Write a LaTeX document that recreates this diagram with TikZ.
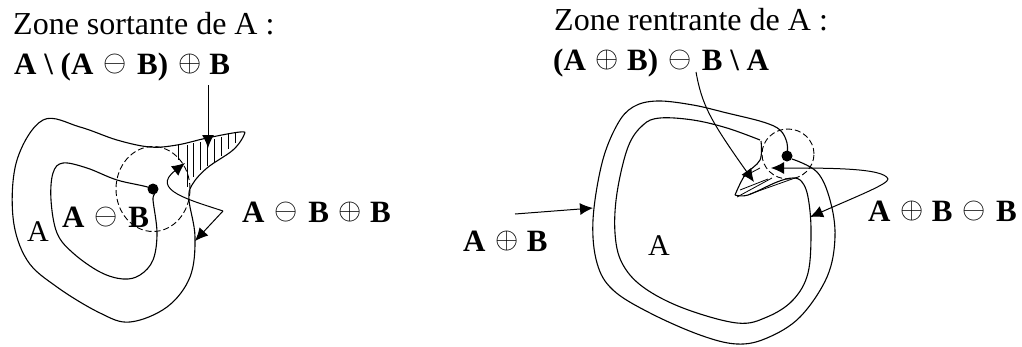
\documentclass[tikz,border=0pt]{standalone}
\usepackage{fontspec}
\setmainfont{Liberation Serif}
\usetikzlibrary{arrows.meta,shapes.geometric}
\begin{document}
\begin{tikzpicture}[x=1pt,y=-1pt]
	% Styles
	\tikzstyle{contour}=[line width=1.1pt,black]
	\tikzstyle{hachure}=[line width=0.8pt,black]
	\tikzstyle{fleche}=[line width=1pt,-{Latex[length=13pt,width=12pt]}]
	\tikzstyle{zone}=[draw,dash pattern=on 6pt off 3pt,ellipse,line width=0.9pt,inner sep=0pt]
	\tikzstyle{point}=[circle,fill=black,inner sep=0pt,minimum size=11pt]
	\tikzstyle{texte}=[anchor=base west,inner sep=0pt,font=\fontsize{32}{32}\selectfont]
	\tikzstyle{lettre}=[texte,font=\fontsize{30}{30}\selectfont]
	\tikzstyle{gras}=[texte,font=\fontsize{31}{31}\selectfont\bfseries]
	\def\Moins{\hspace{10pt}\raisebox{3pt}{\scalebox{1.2}{$\ominus$}}\hspace{10.5pt}}
	\def\Plus{\hspace{10pt}\raisebox{3pt}{\scalebox{1.2}{$\oplus$}}\hspace{8pt}}
	\useasboundingbox (0,0) rectangle (1022,346);
	% Titres
	\node[texte] (titreS) at (13,34) {Zone sortante de A :};
	\node[gras] (formuleS) at (14,74) {A \textbackslash\ (A\Moins B)\Plus B};
	\node[texte] (titreR) at (554,30) {Zone rentrante de A :};
	\node[gras] (formuleR) at (553,70) {(A\Plus B)\Moins B \textbackslash\ A};
	% Figure de gauche
	\draw[contour] plot[smooth cycle,tension=0.6] coordinates {(43,120) (80,127) (117,140) (150,147) (177,145) (207,138) (240,132) (244,135) (233,150) (207,168) (192,185) (189,200) (195,237) (190,277) (167,307) (130,322) (100,313) (57,287) (27,260) (13,217) (17,160)};
	\draw[contour] plot[smooth cycle,tension=0.6] coordinates {(63,163) (87,168) (117,180) (153,189) (153,200) (157,233) (153,260) (140,275) (123,279) (100,272) (73,253) (57,233) (51,200) (53,173)};
	\foreach \x/\ya/\yb in {178/145/160,187/145/187,193/143/177,200/142/170,207/140/166,214/139/162,221/137/156,228/134/149,235/133/143}
		\draw[hachure] (\x,\ya)--(\x,\yb);
	\node[point] (centreS) at (153,189) {};
	\node[zone,minimum width=74pt,minimum height=85pt] (disqueS) at (153,189) {};
	\node[lettre] (AS) at (27,241) {A};
	\node[gras] (erode) at (62,227) {A\Moins B};
	\node[gras] (ouvert) at (242,222) {A\Moins B\Plus B};
	% Fleches de gauche
	\coordinate (departS) at (208,85);
	\coordinate (pointeS) at (208,148);
	\coordinate (coinS) at (223,211);
	\coordinate (pointeA) at (195,241);
	\coordinate (pointeB) at (185,163);
	\draw[fleche] (departS)--(pointeS);
	\draw[fleche] (coinS)--(pointeA);
	\draw[fleche] (coinS) .. controls (190,200) and (150,190) .. (pointeB);
	% Figure de droite
	\draw[contour] plot[smooth,tension=0.6] coordinates {(787,156) (787,143) (780,130) (763,122) (727,113) (693,105) (657,101) (633,107) (617,125) (602,163) (593,220) (597,263) (613,290) (650,313) (700,335) (737,344) (767,338) (800,317) (827,277) (835,237) (830,200) (817,172) (792,159)};
	\draw[contour] plot[smooth,tension=0.6] coordinates {(760,140) (727,128) (693,120) (660,118) (643,125) (628,147) (617,193) (615,233) (622,263) (643,287) (683,308) (737,323) (767,317) (793,300) (808,273) (811,230) (808,197) (802,182) (793,178) (777,182) (748,195) (735,195)};
	\draw[contour] plot[smooth,tension=0.6] coordinates {(735,195) (745,175) (760,160) (761,141)};
	\draw[hachure] (743,177)--(760,168);
	\draw[hachure] (737,197)--(772,178);
	\draw[hachure] (740,190)--(768,179);
	\draw[hachure] (750,194)--(795,178);
	\node[point] (centreR) at (787,156) {};
	\node[zone,minimum width=52pt,minimum height=50pt] (disqueR) at (788,154) {};
	\node[lettre] (AR) at (648,255) {A};
	\node[gras] (dilate) at (463,251) {A\Plus B};
	\node[gras] (ferme) at (868,221) {A\Plus B\Moins B};
	% Fleches de droite
	\coordinate (departR) at (696,72);
	\coordinate (pointeR) at (754,182);
	\coordinate (departD) at (515,214);
	\coordinate (pointeD) at (593,208);
	\coordinate (coinR) at (888,179);
	\coordinate (pointeC) at (771,168);
	\coordinate (pointeE) at (810,217);
	\draw[fleche] (departR) .. controls (702,105) and (710,120) .. (pointeR);
	\draw[fleche] (departD)--(pointeD);
	\draw[fleche] (coinR) .. controls (884,168) and (830,168) .. (pointeC);
	\draw[fleche] (coinR) .. controls (888,184) and (860,195) .. (pointeE);
\end{tikzpicture}
\end{document}
